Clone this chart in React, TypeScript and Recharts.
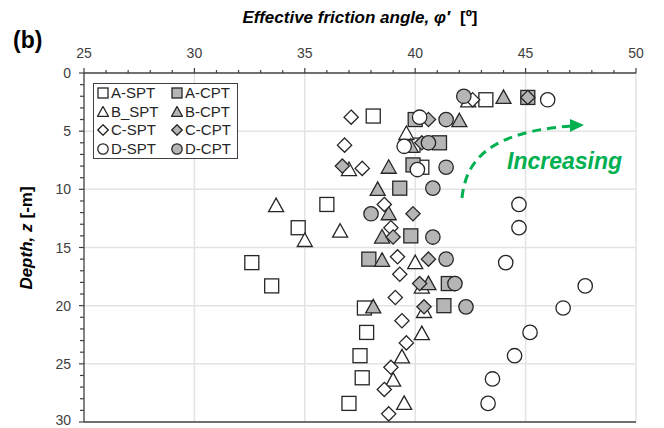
import React from 'react';
import { ScatterChart, Scatter, XAxis, YAxis, CartesianGrid, ReferenceLine } from 'recharts';

// friction angle [deg], depth [m]
const aSpt = [[43.2,2.3],[38.1,3.7],[39.9,6.2],[40.3,8.1],[36.0,11.3],[34.7,13.3],[32.6,16.3],[33.5,18.3],[37.7,20.2],[37.8,22.3],[37.5,24.3],[37.6,26.2],[37.0,28.4]];
const aCpt = [[45.1,2.1],[40.0,4.0],[41.1,6.0],[39.9,7.9],[39.3,9.9],[39.8,14.0],[37.9,16.0],[41.5,18.1],[41.3,20.0]];
const bSpt = [[42.4,2.4],[39.6,5.2],[37.0,8.3],[33.7,11.4],[36.6,13.6],[35.0,14.4],[40.0,16.3],[40.3,18.4],[40.4,20.5],[40.3,22.4],[39.4,24.4],[39.0,26.4],[39.5,28.4]];
const bCpt = [[44.0,2.1],[42.0,4.1],[39.8,6.3],[38.8,8.1],[38.3,10.0],[38.8,12.1],[38.5,14.1],[38.5,16.1],[40.6,18.1],[38.1,20.1]];
const cSpt = [[42.6,2.3],[37.1,3.8],[36.8,6.2],[37.6,8.2],[38.6,11.3],[38.9,13.3],[39.2,15.8],[39.3,17.3],[39.1,19.3],[39.4,21.3],[39.6,23.2],[38.9,25.3],[38.6,27.2],[38.8,29.3]];
const cCpt = [[45.1,2.1],[40.6,4.0],[40.3,6.0],[36.7,8.0],[39.9,12.1],[39.0,14.1],[40.6,16.0],[40.2,18.1],[40.4,20.1]];
const dSpt = [[46.0,2.3],[40.2,3.8],[39.5,6.3],[40.1,8.3],[44.7,11.3],[44.7,13.3],[44.1,16.3],[47.7,18.3],[46.7,20.2],[45.2,22.3],[44.5,24.3],[43.5,26.3],[43.3,28.4]];
const dCpt = [[42.2,2.0],[41.4,4.0],[40.6,6.0],[41.4,8.1],[40.8,9.9],[38.0,12.1],[40.8,14.1],[41.4,16.0],[41.8,18.1],[42.3,20.1]];

const X_MAJOR = [25, 30, 35, 40, 45, 50];
const Y_MAJOR = [0, 5, 10, 15, 20, 25, 30];
const X_TICKS = Array.from({ length: 26 }, (_, i) => 25 + i);
const Y_TICKS = Array.from({ length: 31 }, (_, i) => i);

const INK = '#262626';
const AXIS = '#404040';
const GREY = '#b5b5b5';
const GREEN = '#00b050';
const FONT = '"Liberation Sans", Arial, sans-serif';

type Kind = 'square' | 'triangle' | 'diamond' | 'circle';

const SERIES: { name: string; data: number[][]; kind: Kind; filled: boolean }[] = [
  { name: 'A-SPT', data: aSpt, kind: 'square', filled: false },
  { name: 'A-CPT', data: aCpt, kind: 'square', filled: true },
  { name: 'B_SPT', data: bSpt, kind: 'triangle', filled: false },
  { name: 'B-CPT', data: bCpt, kind: 'triangle', filled: true },
  { name: 'C-SPT', data: cSpt, kind: 'diamond', filled: false },
  { name: 'C-CPT', data: cCpt, kind: 'diamond', filled: true },
  { name: 'D-SPT', data: dSpt, kind: 'circle', filled: false },
  { name: 'D-CPT', data: dCpt, kind: 'circle', filled: true },
];

function Marker({ cx, cy, kind, filled, size = 15 }: any) {
  if (cx == null || cy == null) return null;
  const h = size / 2;
  const p = { fill: filled ? GREY : '#fff', stroke: INK, strokeWidth: 1.3 };
  if (kind === 'square') return <rect x={cx - h + 0.5} y={cy - h + 0.5} width={size - 1} height={size - 1} {...p} />;
  if (kind === 'circle') return <circle cx={cx} cy={cy} r={h - 0.3} {...p} />;
  if (kind === 'triangle')
    return <polygon points={`${cx},${cy - h} ${cx + h},${cy + h * 0.8} ${cx - h},${cy + h * 0.8}`} {...p} />;
  const d = h * 0.95;
  return <polygon points={`${cx},${cy - d} ${cx + d},${cy} ${cx},${cy + d} ${cx - d},${cy}`} {...p} />;
}

function XTick({ x, y, payload }: any) {
  const major = payload.value % 5 === 0;
  return (
    <g>
      <line x1={x} x2={x} y1={y} y2={y - (major ? 5 : 3)} stroke={AXIS} strokeWidth={1.2} />
      {major && (
        <text x={x} y={y - 15} textAnchor="middle" fontSize={14} fill={AXIS} fontFamily={FONT}>
          {payload.value}
        </text>
      )}
    </g>
  );
}

function YTick({ x, y, payload }: any) {
  const major = payload.value % 5 === 0;
  return (
    <g>
      <line x1={x} x2={x - (major ? 5 : 4)} y1={y} y2={y} stroke={AXIS} strokeWidth={1.2} />
      {major && (
        <text x={x - 13} y={Math.min(y + 5, 425)} textAnchor="end" fontSize={14} fill={AXIS} fontFamily={FONT}>
          {payload.value}
        </text>
      )}
    </g>
  );
}

function LegendBox() {
  return (
    <div style={{
      position: 'absolute', left: 93, top: 83, width: 143, height: 74, border: `1.3px solid ${AXIS}`,
      background: '#fff', display: 'grid', gridTemplateColumns: '74px 69px', gridAutoRows: '18.5px',
      fontFamily: FONT, fontSize: 15, color: INK, boxSizing: 'content-box',
    }}>
      {SERIES.map(s => (
        <div key={s.name} style={{ display: 'flex', alignItems: 'center', paddingLeft: 3, lineHeight: '18px' }}>
          <svg width={12} height={12} style={{ marginRight: 2 }}>
            <Marker cx={6} cy={6} kind={s.kind} filled={s.filled} size={11} />
          </svg>
          {s.name}
        </div>
      ))}
    </div>
  );
}

export default function App() {
  return (
    <div style={{ position: 'absolute', left: 0, top: 0, width: 664, height: 428, background: '#fff' }}>
      <ScatterChart width={664} height={428} margin={{ top: 43, right: 28, bottom: 6, left: 24 }}>
        <CartesianGrid stroke="#e3e3e3" strokeWidth={1.5}
          verticalValues={X_MAJOR.slice(1)} horizontalValues={Y_MAJOR.slice(1, -1)} />
        <XAxis type="number" dataKey="x" orientation="top" domain={[25, 50]} ticks={X_TICKS} interval={0}
          height={30} tickSize={0} tickMargin={0} tickLine={false} tick={<XTick />}
          axisLine={{ stroke: AXIS, strokeWidth: 1.3 }} allowDataOverflow />
        <YAxis type="number" dataKey="z" reversed domain={[0, 30]} ticks={Y_TICKS} interval={0}
          width={60} tickSize={0} tickMargin={0} tickLine={false} tick={<YTick />}
          axisLine={{ stroke: AXIS, strokeWidth: 1.3 }} allowDataOverflow />
        <ReferenceLine y={30} stroke={AXIS} strokeWidth={1.3} />
        {SERIES.map(s => (
          <Scatter key={s.name} name={s.name} data={s.data.map(([x, z]) => ({ x, z }))}
            isAnimationActive={false}
            shape={(props: any) => <Marker cx={props.cx} cy={props.cy} kind={s.kind} filled={s.filled} />} />
        ))}
      </ScatterChart>

      <svg width={664} height={428} style={{ position: 'absolute', left: 0, top: 0, pointerEvents: 'none' }}>
        <text x={13} y={48} fontSize={23} fontWeight="bold" fontFamily={FONT} fill="#000">(b)</text>
        <text x={360} y={23} textAnchor="middle" fontSize={17} fontWeight="bold" fontFamily={FONT} fill="#000">
          <tspan fontStyle="italic">Effective friction angle, φ′</tspan>
          <tspan dx={10}>[º]</tspan>
        </text>
        <text transform="translate(32,238) rotate(-90)" textAnchor="middle" fontSize={17} fontWeight="bold"
          fontFamily={FONT} fill="#000">
          <tspan fontStyle="italic">Depth, z</tspan>
          <tspan dx={5}>[-m]</tspan>
        </text>
        <path d="M462,198 C466,158 492,132 571,126" fill="none" stroke={GREEN} strokeWidth={3} strokeDasharray="9 6" />
        <polygon points="584,125 570,119 570,132" fill={GREEN} />
        <text x={507} y={169} fontSize={23} fontWeight="bold" fontStyle="italic" fontFamily={FONT} fill={GREEN}>
          Increasing
        </text>
      </svg>
      <LegendBox />
    </div>
  );
}
